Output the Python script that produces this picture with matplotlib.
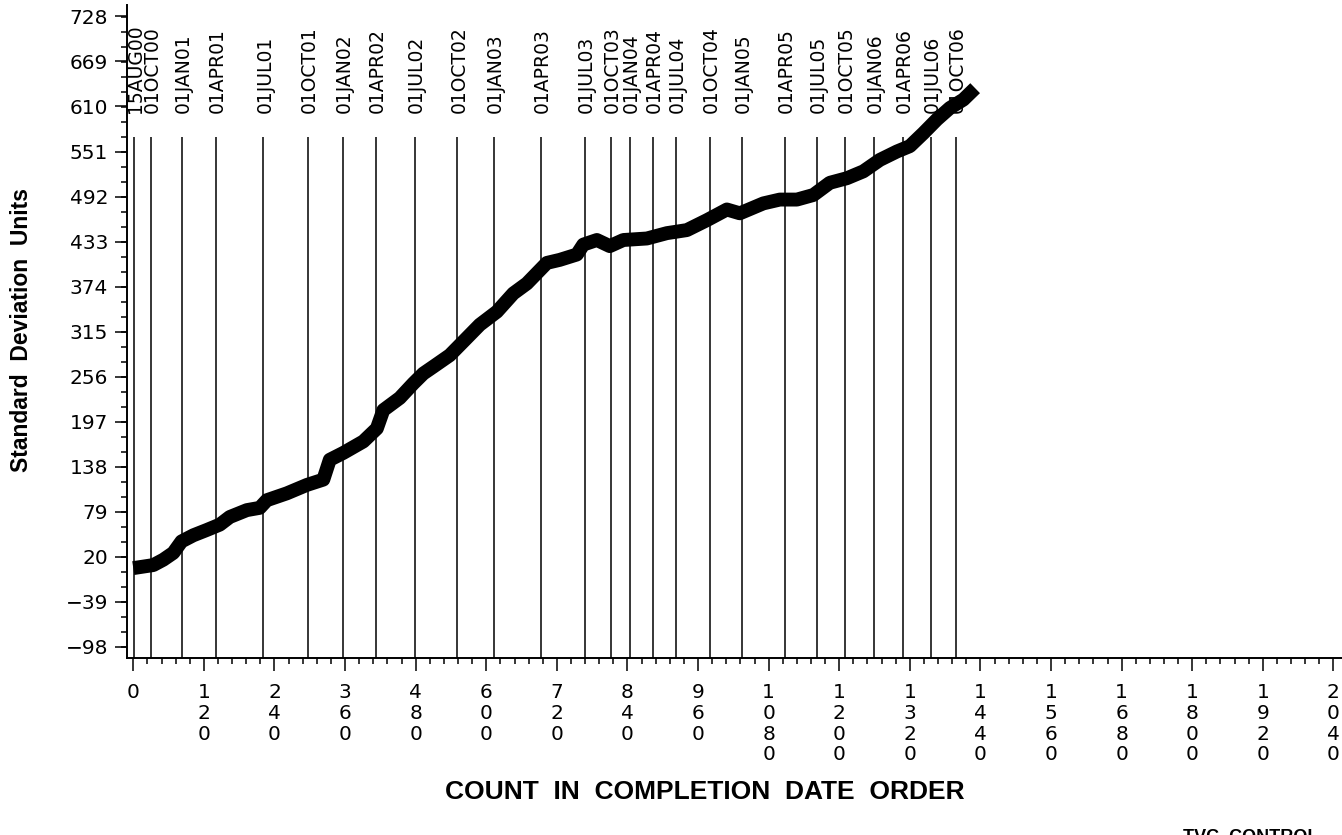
import matplotlib
matplotlib.use("Agg")
import matplotlib.pyplot as plt
from matplotlib.ticker import MultipleLocator, FixedLocator

# cumulative standard deviation units
COUNTS = [0, 17, 34, 51, 68, 82, 102, 125, 147, 164, 193, 215, 227, 261, 295,
          323, 334, 357, 391, 414, 425, 453, 476, 493, 510, 538, 561, 589, 618,
          646, 669, 703, 725, 754, 765, 788, 810, 833, 873, 907, 941, 975,
          1009, 1031, 1071, 1099, 1128, 1156, 1184, 1213, 1241, 1269, 1298,
          1320, 1343, 1366, 1388, 1411, 1431]
SD_UNITS = [5, 7, 9, 16, 25, 40, 48, 55, 62, 72, 81, 84, 94, 103, 114,
            121, 147, 156, 171, 188, 212, 228, 247, 260, 269, 284, 302, 324, 341,
            365, 378, 405, 409, 416, 429, 435, 427, 435, 437, 444, 448, 461,
            475, 470, 483, 488, 488, 494, 510, 516, 525, 540, 551,
            558, 575, 593, 608, 619, 634]

DATE_LABELS = ["15AUG00", "01OCT00", "01JAN01", "01APR01", "01JUL01", "01OCT01",
               "01JAN02", "01APR02", "01JUL02", "01OCT02", "01JAN03", "01APR03",
               "01JUL03", "01OCT03", "01JAN04", "01APR04", "01JUL04", "01OCT04",
               "01JAN05", "01APR05", "01JUL05", "01OCT05", "01JAN06", "01APR06",
               "01JUL06", "01OCT06"]
DATE_COUNTS = [2, 30, 82, 141, 221, 297, 356, 413, 479, 551, 613, 693,
               768, 812, 844, 883, 922, 980, 1034, 1108, 1162, 1210, 1259, 1308,
               1356, 1398]

Y_TICKS = list(range(-98, 729, 59))
X_TICKS = list(range(0, 2041, 120))

fig = plt.figure(figsize=(13.42, 8.35), dpi=100)
ax = fig.add_axes([127 / 1342, (835 - 658) / 835, (1342 - 127) / 1342, (658 - 5) / 835])
ax.set_xlim(-10.7, 2054.6)
ax.set_ylim(-112.8, 743)

for s in ("top", "right"):
    ax.spines[s].set_visible(False)
for s in ("left", "bottom"):
    ax.spines[s].set_linewidth(1.4)

# date reference lines and their labels
ax.vlines(DATE_COUNTS, -112.8, 570, color="black", linewidth=1.1)
for c, lab in zip(DATE_COUNTS, DATE_LABELS):
    ax.text(c + 2.5, 601, lab, rotation=90, ha="center", va="bottom",
            fontsize=13.5, family="DejaVu Sans", color="black")

# the running total
ax.plot(COUNTS, SD_UNITS, color="black", linewidth=10,
        solid_capstyle="butt", solid_joinstyle="round")

ax.yaxis.set_major_locator(FixedLocator(Y_TICKS))
ax.yaxis.set_minor_locator(MultipleLocator(59 / 3))
ax.set_yticklabels([str(v).replace("-", "\u2212") for v in Y_TICKS])
ax.xaxis.set_major_locator(FixedLocator(X_TICKS))
ax.xaxis.set_minor_locator(MultipleLocator(24))
ax.set_xticklabels(["\n".join(str(v)) for v in X_TICKS], linespacing=1.12)

ax.tick_params(axis="y", which="major", length=8.6, width=1.1, pad=5, labelsize=14.5)
ax.tick_params(axis="y", which="minor", length=4.3, width=1.1)
ax.tick_params(axis="x", which="major", length=9, width=1.1, pad=9, labelsize=14.5)
ax.tick_params(axis="x", which="minor", length=4.3, width=1.1)
for lab in ax.get_xticklabels() + ax.get_yticklabels():
    lab.set_family("DejaVu Sans")

fig.text(22 / 1342, 1 - 330 / 835, "Standard  Deviation  Units", rotation=90,
         ha="center", va="center", fontsize=16.5, fontweight="heavy",
         family=["Liberation Sans", "DejaVu Sans"])
fig.text(705 / 1342, 1 - 792 / 835, "COUNT  IN  COMPLETION  DATE  ORDER",
         ha="center", va="center", fontsize=19, fontweight="bold",
         family=["Liberation Sans", "DejaVu Sans"])
fig.text(1183 / 1342, 1 - 829 / 835, "TVC  CONTROL", ha="left", va="top",
         fontsize=13, fontweight="bold", family=["Liberation Sans", "DejaVu Sans"])

fig.savefig("out.png", dpi=100)
